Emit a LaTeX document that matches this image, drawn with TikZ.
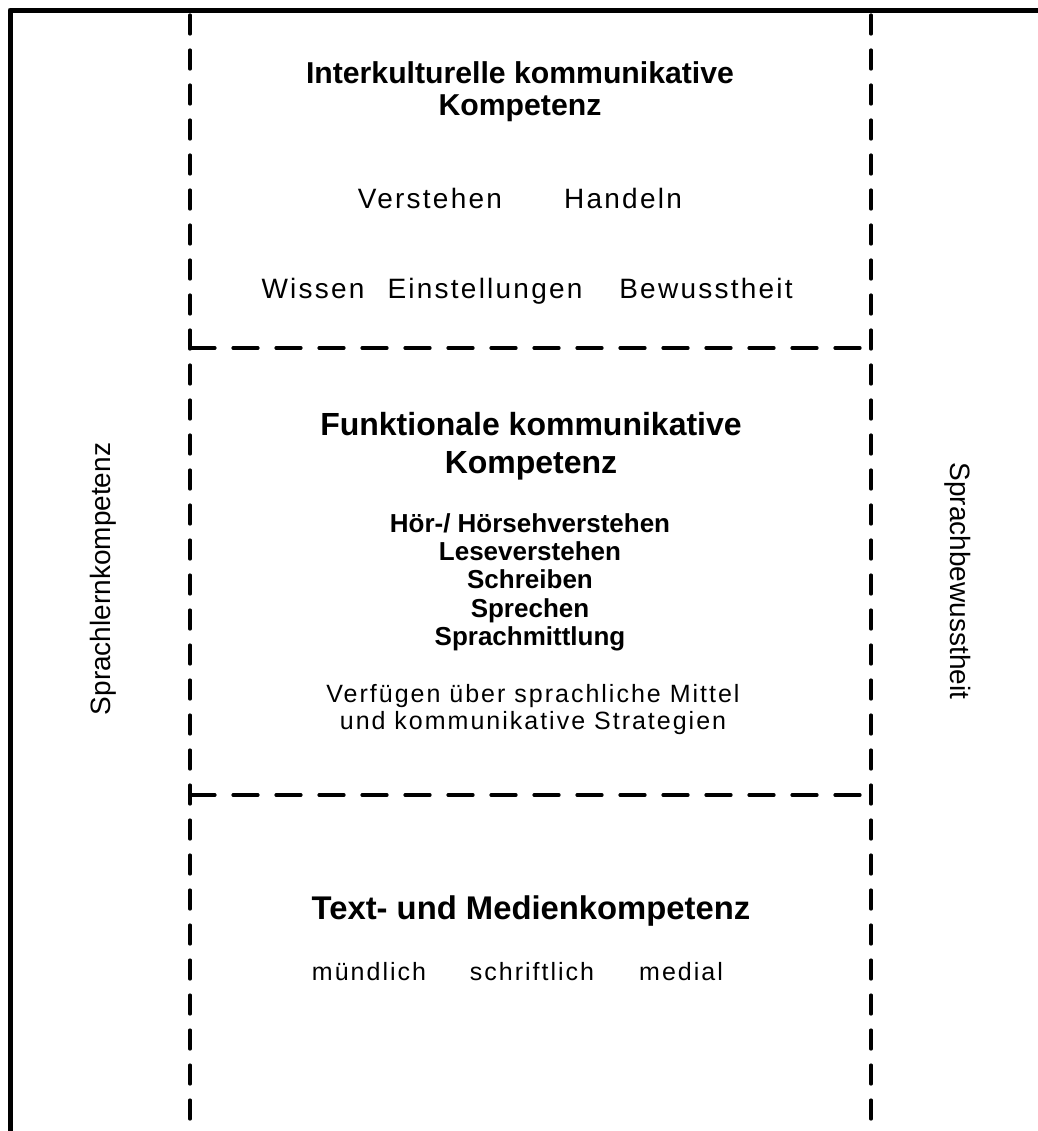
\documentclass[tikz,border=0pt]{standalone}
\usepackage{fontspec}
\setmainfont{Liberation Sans}
\newfontfamily\spaced[LetterSpace=8]{Liberation Sans}
\tikzset{
  frameline/.style={line width=2.5pt, line join=round},
  zonev/.style={line width=1.6pt, line cap=round, dash pattern=on 9.5pt off 8pt},
  zoneh/.style={line width=1.6pt, line cap=round, dash pattern=on 12.5pt off 9pt},
  head/.style={font=\fontsize{15.1}{16}\selectfont\bfseries, align=center},
  word/.style={font=\fontsize{14}{16}\selectfont\spaced, anchor=base},
  skill/.style={font=\fontsize{13}{14}\selectfont\bfseries, anchor=base},
  small/.style={font=\fontsize{12.5}{13.5}\selectfont\spaced, align=center},
  side/.style={font=\fontsize{14}{16}\selectfont},
}
\begin{document}
\begin{tikzpicture}[x=0.5pt,y=-0.5pt]
\useasboundingbox (0,0) rectangle (1038,1131);
% frame, left and top
\draw[frameline] (10,1131) -- (10,10) -- (1038,10);
% edit here for the dashed columns and rows
\foreach \x in {190,871}
\draw[zonev] (\x,15) -- (\x,1131);
\foreach \y in {348,795}
\draw[zoneh] (190,\y) -- (871,\y);

% upper zone
\node[head] (ikk) at (520,92) {Interkulturelle kommunikative\\Kompetenz};
\node[word] (verst) at (430,208) {Verstehen};
\node[word] (handeln) at (623,208) {Handeln};
\foreach \x/\t [count=\i] in {313/Wissen, 485/Einstellungen, 706/Bewusstheit}
\node[word] (w\i) at (\x,298) {\t};

% middle zone
\node[head, font=\fontsize{16}{19}\selectfont\bfseries] (fkk) at (531,446) {Funktionale kommunikative\\Kompetenz};
\foreach \y/\t [count=\i] in {532/{Hör-/ Hörsehverstehen}, 560/Leseverstehen, 588/Schreiben, 617/Sprechen, 645/Sprachmittlung} % edit here for the skills
\node[skill] (s\i) at (530,\y) {\t};
\node[small] (mittel) at (533,710) {Verfügen über sprachliche Mittel\\und kommunikative Strategien};

% lower zone
\node[head, font=\fontsize{16.4}{18}\selectfont\bfseries] (tmk) at (531,911) {Text- und Medienkompetenz};
\foreach \x/\t [count=\i] in {369/mündlich, 532/schriftlich, 681/medial}
\node[small, anchor=base] (m\i) at (\x,980) {\t};

% side labels
\node[side, rotate=90] (lernk) at (103,579) {Sprachlernkompetenz};
\node[side, rotate=-90] (bewusst) at (958,581) {Sprachbewusstheit};
\end{tikzpicture}
\end{document}
